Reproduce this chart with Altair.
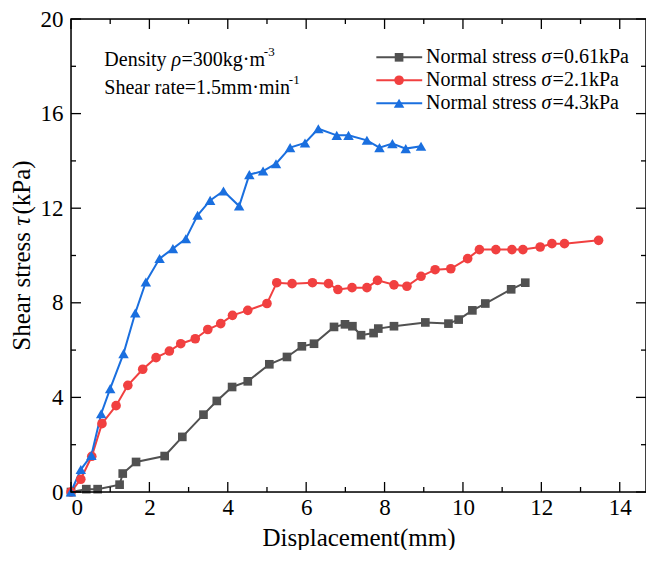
import altair as alt
import pandas as pd

x_label = "Displacement(mm)"
y_title_parts = ["Shear stress ", "τ", "(kPa)"]

series_names = ["0.61kPa", "2.1kPa", "4.3kPa"]
legend_labels = ["=0.61kPa", "=2.1kPa", "=4.3kPa"]
colors = ["#515151", "#F14040", "#1A6FDF"]
shapes = ["square", "circle", "triangle-up"]
marker_sizes = [75, 110, 140]

s1_x = [0, 0.39, 0.68, 1.24, 1.32, 1.66, 2.39, 2.84, 3.38, 3.72, 4.11, 4.51, 5.06, 5.51, 5.89,
        6.20, 6.71, 6.99, 7.18, 7.40, 7.72, 7.84, 8.24, 9.04, 9.63, 9.89, 10.24, 10.57, 11.23, 11.59]
s1_y = [0, 0.12, 0.12, 0.31, 0.78, 1.27, 1.52, 2.33, 3.27, 3.85, 4.44, 4.68, 5.40, 5.71, 6.16,
        6.27, 6.98, 7.09, 7.01, 6.63, 6.72, 6.91, 7.01, 7.17, 7.12, 7.29, 7.68, 7.97, 8.57, 8.85]

s2_x = [0, 0.25, 0.53, 0.79, 1.15, 1.45, 1.83, 2.17, 2.51, 2.80, 3.17, 3.49, 3.82, 4.12, 4.51,
        5.00, 5.25, 5.64, 6.16, 6.57, 6.81, 7.17, 7.55, 7.82, 8.24, 8.57, 8.93, 9.29, 9.69, 10.12,
        10.42, 10.84, 11.25, 11.53, 11.97, 12.27, 12.59, 13.46]
s2_y = [0, 0.54, 1.51, 2.89, 3.65, 4.51, 5.19, 5.68, 5.96, 6.27, 6.48, 6.87, 7.12, 7.47, 7.68,
        7.97, 8.85, 8.81, 8.85, 8.81, 8.56, 8.64, 8.64, 8.95, 8.76, 8.70, 9.12, 9.40, 9.44, 9.87,
        10.25, 10.25, 10.25, 10.25, 10.36, 10.50, 10.50, 10.64]

s3_x = [0, 0.25, 0.52, 0.77, 1.00, 1.34, 1.64, 1.91, 2.26, 2.60, 2.93, 3.23, 3.55, 3.89, 4.29,
        4.55, 4.90, 5.23, 5.59, 5.97, 6.31, 6.78, 7.08, 7.55, 7.87, 8.20, 8.54, 8.93]
s3_y = [0, 0.95, 1.55, 3.31, 4.37, 5.85, 7.57, 8.88, 9.87, 10.29, 10.71, 11.70, 12.33, 12.73, 12.09,
        13.42, 13.57, 13.88, 14.56, 14.76, 15.36, 15.08, 15.08, 14.87, 14.56, 14.73, 14.52, 14.62]

x_major = [0, 2, 4, 6, 8, 10, 12, 14]
x_minor = [1, 3, 5, 7, 9, 11, 13]
y_major = [0, 4, 8, 12, 16, 20]
y_minor = [2, 6, 10, 14, 18]

# legend placement (data units)
leg_x1, leg_x2, leg_xm, leg_xt = 7.79, 8.96, 8.37, 9.06
leg_y = [18.38, 17.41, 16.44]

FONT = "Liberation Serif"
W, H = 575, 473
TITLE_SIZE = 25

rows = []
for name, xs_, ys_ in zip(series_names, [s1_x, s2_x, s3_x], [s1_y, s2_y, s3_y]):
    for i, (a, b) in enumerate(zip(xs_, ys_)):
        rows.append({"series": name, "x": a, "y": b, "order": i})
df = pd.DataFrame(rows)

xsc = alt.Scale(domain=[0, 14.67], nice=False, zero=False)
ysc = alt.Scale(domain=[0, 20], nice=False, zero=False)
csc = alt.Scale(domain=series_names, range=colors)
ssc = alt.Scale(domain=series_names, range=shapes)
zsc = alt.Scale(domain=series_names, range=marker_sizes)

x_axis = alt.Axis(values=x_major, ticks=False, domain=False, grid=False, format="d",
                  labelFont=FONT, labelFontSize=23, labelColor="black", labelPadding=4,
                  title=x_label, titleFont=FONT, titleFontSize=TITLE_SIZE, titleFontWeight="normal",
                  titleColor="black", titlePadding=6)
y_axis = alt.Axis(values=y_major, ticks=False, domain=False, grid=False, format="d",
                  labelFont=FONT, labelFontSize=23, labelColor="black", labelPadding=8,
                  title=None)


def X(field):
    return alt.X(field, scale=xsc, axis=x_axis)


def Y(field):
    return alt.Y(field, scale=ysc, axis=y_axis)


lines = alt.Chart(df).mark_line(strokeWidth=2).encode(
    x=X("x:Q"), y=Y("y:Q"),
    color=alt.Color("series:N", scale=csc, legend=None),
    order="order:Q",
)
points = alt.Chart(df).mark_point(filled=True, opacity=1).encode(
    x=X("x:Q"), y=Y("y:Q"),
    color=alt.Color("series:N", scale=csc, legend=None),
    shape=alt.Shape("series:N", scale=ssc, legend=None),
    size=alt.Size("series:N", scale=zsc, legend=None),
)


# ticks (inward, on all four sides)
def xticks(vals, length, top):
    y1 = 0 if top else H
    y2 = length if top else H - length
    return alt.Chart(pd.DataFrame({"v": vals})).mark_rule(color="black", strokeWidth=1.3).encode(
        x=X("v:Q"), y=alt.value(y1), y2=alt.value(y2))


def yticks(vals, length, right):
    x1 = W if right else 0
    x2 = W - length if right else length
    return alt.Chart(pd.DataFrame({"v": vals})).mark_rule(color="black", strokeWidth=1.3).encode(
        y=Y("v:Q"), x=alt.value(x1), x2=alt.value(x2))


ticks = [xticks(x_major, 10, False), xticks(x_minor, 5, False),
         xticks(x_major, 10, True), xticks(x_minor, 5, True),
         yticks(y_major, 10, False), yticks(y_minor, 5, False),
         yticks(y_major, 10, True), yticks(y_minor, 5, True)]

frame = alt.Chart(pd.DataFrame({"a": [0]})).mark_rect(
    fill=None, fillOpacity=0, stroke="black", strokeWidth=1.5).encode(
    x=alt.value(0), x2=alt.value(W), y=alt.value(0), y2=alt.value(H))

# y-axis title in three pieces (italic tau), rotated
one = pd.DataFrame({"a": [0]})
part_w = [4.999 * TITLE_SIZE, 0.45 * TITLE_SIZE, 2.166 * TITLE_SIZE]
start = H / 2 + sum(part_w) / 2
ytitle = []
pos = start
for txt, w, style in zip(y_title_parts, part_w, ["normal", "italic", "normal"]):
    ytitle.append(alt.Chart(one).mark_text(
        font=FONT, fontSize=TITLE_SIZE, fontStyle=style, color="black", angle=270,
        align="left", baseline="middle").encode(
        x=alt.value(-49), y=alt.value(pos), text=alt.value(txt)))
    pos -= w

# legend
leg = pd.DataFrame({"series": series_names, "y": leg_y, "x1": leg_x1, "x2": leg_x2,
                    "xm": leg_xm, "xt": leg_xt, "lab": legend_labels})
leg_lines = alt.Chart(leg).mark_rule(strokeWidth=2).encode(
    x=X("x1:Q"), x2="x2:Q", y=Y("y:Q"),
    color=alt.Color("series:N", scale=csc, legend=None))
leg_pts = alt.Chart(leg).mark_point(filled=True, opacity=1).encode(
    x=X("xm:Q"), y=Y("y:Q"),
    color=alt.Color("series:N", scale=csc, legend=None),
    shape=alt.Shape("series:N", scale=ssc, legend=None),
    size=alt.Size("series:N", scale=zsc, legend=None))
txt_kw = dict(font=FONT, fontSize=20, color="black", align="left", baseline="middle")
leg_t1 = alt.Chart(leg).mark_text(**txt_kw).encode(
    x=X("xt:Q"), y=Y("y:Q"), text=alt.value("Normal stress"))
leg_t2 = alt.Chart(leg).mark_text(fontStyle="italic", dx=115.5, **txt_kw).encode(
    x=X("xt:Q"), y=Y("y:Q"), text=alt.value("σ"))
leg_t3 = alt.Chart(leg).mark_text(dx=126.5, **txt_kw).encode(
    x=X("xt:Q"), y=Y("y:Q"), text="lab:N")

# annotation
ann = pd.DataFrame({"x": [0.85, 0.85], "y": [18.25, 17.07]})


def ann_text(row, text, dx, **kw):
    k = dict(txt_kw)
    k.update(kw)
    return alt.Chart(ann.iloc[[row]]).mark_text(dx=dx, **k).encode(
        x=X("x:Q"), y=Y("y:Q"), text=alt.value(text))


anns = [ann_text(0, "Density", 0), ann_text(0, "ρ", 67.2, fontStyle="italic"),
        ann_text(0, "=300kg·m", 77.2), ann_text(0, "-3", 159.5, fontSize=13, dy=-8),
        ann_text(1, "Shear rate=1.5mm·min", 0), ann_text(1, "-1", 184.5, fontSize=13, dy=-8)]

chart = alt.layer(lines, points, *ticks, frame, *ytitle, leg_lines, leg_pts, leg_t1, leg_t2, leg_t3,
                  *anns).properties(
    width=W, height=H,
    autosize=alt.AutoSizeParams(type="none"),
    padding={"left": 63, "top": 11, "right": 0, "bottom": 58},
).configure_view(strokeWidth=0).configure(background="white")

chart.save("out.html", embed_options={"renderer": "svg", "actions": False})
